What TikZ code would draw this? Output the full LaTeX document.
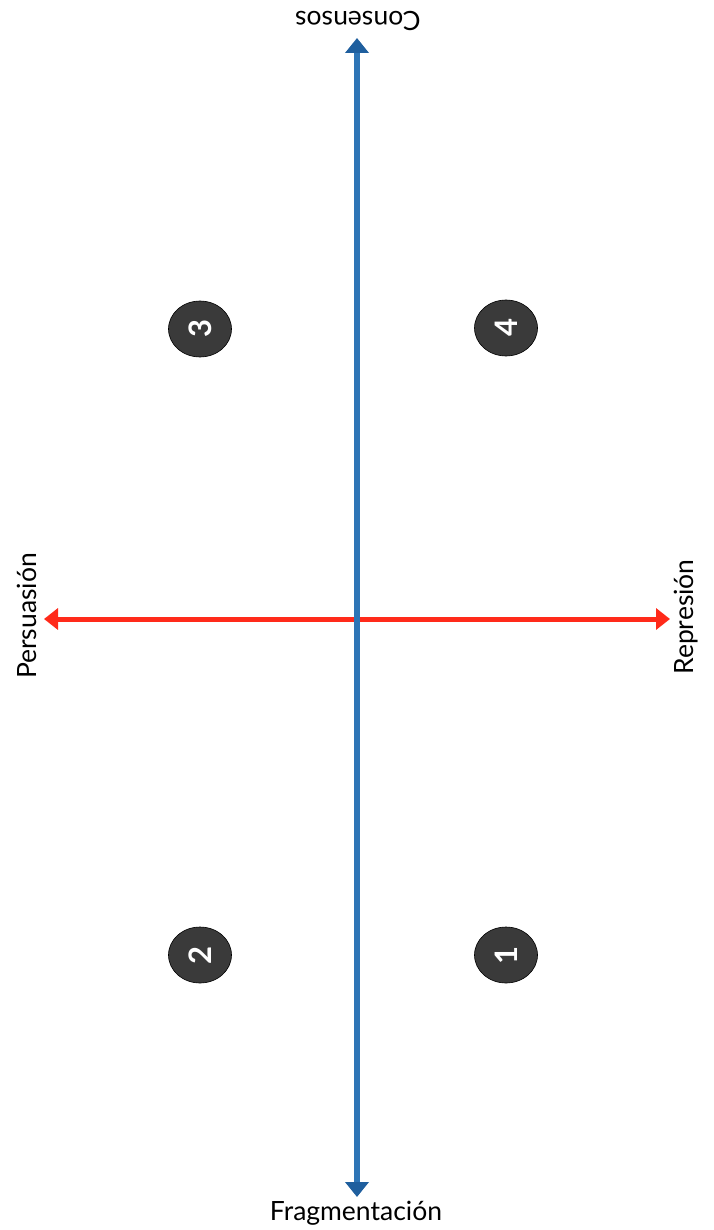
\documentclass[tikz,border=0pt]{standalone}
\usepackage{fontspec}
\setmainfont{Lato}
\usetikzlibrary{arrows.meta,shapes.geometric}
\definecolor{axblue}{HTML}{2E75B6}
\definecolor{axbluedark}{HTML}{1F5F9E}
\definecolor{axred}{HTML}{FF2A1A}
\definecolor{badge}{HTML}{3A3A3A}
\tikzset{
  badgenode/.style={ellipse, fill=badge, draw=black, line width=0.6pt, minimum width=56pt, minimum height=63pt, inner sep=0pt, text=white, font=\bfseries\fontsize{31}{31}\selectfont, rotate=90},
  axlabel/.style={font=\fontsize{26.5}{26.5}\selectfont, inner sep=0pt},
  bluearrow/.style={draw=axblue, line width=6pt, -{Triangle[length=15pt,width=23pt,fill=axbluedark,color=axbluedark]}},
  redarrow/.style={draw=axred, line width=5pt, {Triangle[length=14pt,width=21pt]}-{Triangle[length=14pt,width=21pt]}},
}
\begin{document}
\begin{tikzpicture}[x=1pt,y=-1pt]
\useasboundingbox (0,0) rectangle (713,1230);
\fill[white] (0,0) rectangle (713,1230);
\coordinate (vtop) at (357,38);
\coordinate (vbot) at (357,1197);
\coordinate (hl) at (44,619);
\coordinate (hr) at (670,619);
\coordinate (mid) at (357,619);
\draw[redarrow] (hl) -- (hr);
\draw[bluearrow] (mid) -- (vtop);
\draw[bluearrow] (mid) -- (vbot);
\node[axlabel, rotate=180] (cons) at (358,21) {Consensos};
\node[axlabel] (frag) at (356,1213) {Fragmentación};
\node[axlabel, rotate=90] (pers) at (27,616) {Persuasión};
\node[axlabel, rotate=90] (repr) at (686,617) {Represión};
\node[badgenode] (b3) at (200,329) {3};
\node[badgenode] (b4) at (506,328) {4};
\node[badgenode] (b2) at (200,955) {2};
\node[badgenode] (b1) at (506,955) {1};
\end{tikzpicture}
\end{document}
